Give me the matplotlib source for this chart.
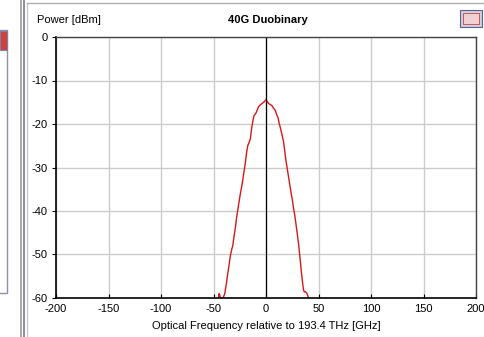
import matplotlib
matplotlib.use("Agg")
import matplotlib.pyplot as plt
from matplotlib.lines import Line2D
from matplotlib.patches import Rectangle

# Data
freq_ghz = [-45.5, -44.8, -44.0, -43.2, -41.5, -40.8, -39.2, -37.7, -36.5, -35.4, -33.9, -32.8,
            -31.6, -30.3, -29.1, -28.0, -26.9, -25.6, -24.4, -23.3, -22.2, -21.0, -19.6, -18.5,
            -17.4, -16.2, -14.9, -13.8, -12.7, -11.6, -10.8, -9.6, -8.5, -7.0, -5.4, -3.8, -2.2,
            -1.0, 0.0, 1.2, 2.5, 4.0, 5.7, 7.3, 8.9, 10.2, 11.4, 12.5, 13.6, 15.2, 16.8, 18.0,
            19.0, 20.2, 21.5, 22.8, 24.0, 25.2, 26.3, 27.4, 28.5, 29.8, 31.0, 31.8, 32.6, 33.4,
            34.2, 35.0, 35.8, 36.5, 37.3, 38.1, 38.9, 40.0, 41.5]
power_dbm = [-60.5, -59.0, -59.3, -60.5, -60.5, -60.0, -58.9, -56.6, -54.5, -52.8, -50.2, -49.0,
             -47.9, -45.6, -43.7, -41.5, -39.8, -37.8, -36.0, -34.6, -33.0, -31.0, -28.8, -26.6,
             -25.0, -24.3, -23.4, -21.2, -19.6, -18.2, -17.9, -17.5, -16.9, -16.0, -15.6, -15.3,
             -15.0, -14.7, -14.4, -14.8, -15.3, -15.5, -15.8, -16.4, -16.9, -17.9, -18.5, -19.8,
             -20.8, -22.4, -24.2, -26.5, -28.4, -30.2, -32.2, -34.2, -36.0, -37.6, -39.5, -41.0,
             -42.9, -45.3, -47.5, -49.4, -51.3, -53.3, -55.1, -56.8, -58.2, -58.6, -58.5, -58.7,
             -58.9, -59.6, -60.5]

x_ticks = [-200, -150, -100, -50, 0, 50, 100, 150, 200]
y_ticks = [0, -10, -20, -30, -40, -50, -60]
title = "40G Duobinary"
y_label = "Power [dBm]"
x_label = "Optical Frequency relative to 193.4 THz [GHz]"

W, H = 484, 337
fig = plt.figure(figsize=(W / 100, H / 100), dpi=100)
fig.patch.set_facecolor("white")
plt.rcParams['font.family'] = ['Liberation Sans', 'DejaVu Sans']

def fx(px):
    return px / W

def fy(py):
    return 1 - py / H

# Window chrome
fig.add_artist(Line2D([fx(21), fx(21)], [0, 1], color="#9a9aa8", lw=1.2))
fig.add_artist(Line2D([fx(24), fx(24)], [0, 1], color="#7a7a88", lw=1.2))
fig.add_artist(Line2D([fx(26.5), fx(26.5)], [0, fy(3)], color="#c8c8d0", lw=1))
fig.add_artist(Line2D([fx(27), 1], [fy(3), fy(3)], color="#b0b0b0", lw=1))
fig.add_artist(Rectangle((fx(-2), fy(293)), fx(9), fy(30) - fy(293), fill=False,
                         edgecolor="#9090a8", lw=1))
fig.add_artist(Rectangle((fx(0), fy(50)), fx(7), fy(31) - fy(50), facecolor="#d04040",
                         edgecolor="#8080a0", lw=0.8))
fig.add_artist(Rectangle((fx(460), fy(27)), fx(22), fy(10) - fy(27), facecolor="#c8d0e8",
                         edgecolor="#606080", lw=0.8))
fig.add_artist(Rectangle((fx(463), fy(24)), fx(16), fy(13) - fy(24), facecolor="#f0d0d0",
                         edgecolor="#d04040", lw=0.6))

ax = fig.add_axes([fx(56), fy(298), fx(476) - fx(56), fy(37) - fy(298)])
ax.plot(freq_ghz, power_dbm, color="#d81818", lw=1.0, clip_on=True)
ax.axvline(0, color="black", lw=0.9)

ax.set_xlim(-200, 200)
ax.set_ylim(-60, 0)
ax.set_xticks(x_ticks)
ax.set_yticks(y_ticks)
ax.set_xticklabels([str(v) for v in x_ticks])
ax.set_yticklabels([str(v) for v in y_ticks])
ax.grid(True, color="#cccccc", lw=1.0)
ax.set_axisbelow(True)

ax.tick_params(axis="x", direction="in", length=3, labelsize=8, pad=4, color="black")
ax.tick_params(axis="y", direction="out", length=3, labelsize=8, pad=3, color="black")
for s in ["left", "bottom"]:
    ax.spines[s].set_color("black")
    ax.spines[s].set_linewidth(1.2)
for s in ["top", "right"]:
    ax.spines[s].set_color("#444444")
    ax.spines[s].set_linewidth(1.0)

fig.text(fx(37), fy(20), y_label, fontsize=8, ha="left", va="center")
fig.text(fx(268), fy(20), title, fontsize=8, fontweight="bold", ha="center", va="center")
fig.text(fx(266), fy(326), x_label, fontsize=8, ha="center", va="center")

fig.savefig("out.png", dpi=100)
